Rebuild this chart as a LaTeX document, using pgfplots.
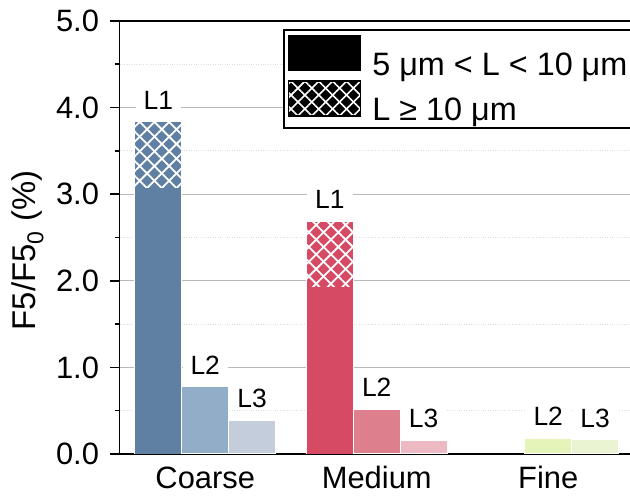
\documentclass[border=0pt]{standalone}
\usepackage{pgfplots}
\pgfplotsset{compat=1.18}
\usepackage{fontspec}
\setmainfont{Liberation Sans}
\usetikzlibrary{patterns.meta}

\definecolor{cA}{HTML}{6080A3}
\definecolor{cB}{HTML}{92ADC8}
\definecolor{cC}{HTML}{C4CDDC}
\definecolor{mA}{HTML}{D64A64}
\definecolor{mB}{HTML}{DE7F8E}
\definecolor{mC}{HTML}{EDB9C2}
\definecolor{fB}{HTML}{E5F5B9}
\definecolor{fC}{HTML}{EBF4D2}

\newcommand{\bigf}{\fontsize{31}{36}\selectfont}
\newcommand{\ylf}{\fontsize{33}{38}\selectfont}
\newcommand{\legf}{\fontsize{32.5}{36}\selectfont}
\newcommand{\lf}{\fontsize{26.5}{30}\selectfont}

\pgfplotsset{
  layers/mylayers/.define layer set={axis background,axis grid,pre main,main,axis ticks,axis lines,axis tick labels,axis descriptions,axis foreground}{},
  mybar/.style={ybar, bar width=0.2735, bar shift=0pt, draw=white, line width=1.2bp, forget plot},
  solidbar/.style={ybar, bar width=0.2665, bar shift=0pt, draw=none, forget plot},
  hatch/.style={postaction={pattern={Lines[angle=45,distance=10.4bp,line width=1.8bp]}, pattern color=white},
                postaction={pattern={Lines[angle=-45,distance=10.4bp,line width=1.8bp]}, pattern color=white}},
  lab/.style={nodes near coords={#1}, every node near coord/.append style={font=\lf, fill=white, inner xsep=8bp, inner ysep=1.5bp, anchor=south, yshift=10bp, text=black}},
}

\begin{document}
\begin{tikzpicture}
\begin{axis}[
  set layers=mylayers,
  scale only axis, width=514.5bp, height=433bp,
  at={(0,0)}, anchor=south west,
  xmin=-0.5, xmax=2.5, ymin=0, ymax=5,
  xtick={0,1,2}, xticklabels={Coarse,Medium,Fine},
  xtick style={draw=none},
  ytick={0,1,2,3,4,5},
  minor ytick={0.5,1.5,2.5,3.5,4.5},
  tick pos=left,
  tick align=outside,
  major tick length=9bp, minor tick length=4.5bp,
  ymajorgrids, yminorgrids,
  major grid style={draw=gray!55, line width=1bp},
  minor grid style={draw=gray!25, dotted, line width=0.8bp},
  axis line style={line width=1.6bp},
  every tick/.style={black, line width=1.6bp},
  tick label style={font=\bigf},
  yticklabel style={xshift=-8bp},
  yticklabel={\pgfmathprintnumber[fixed,fixed zerofill,precision=1,assume math mode=true]{\tick}},
  ylabel={F5/F5\textsubscript{0} (\%)},
  ylabel style={font=\ylf, at={(axis description cs:-0.178,0.47)}, anchor=center},
  legend style={at={(axis description cs:0.3178,0.981)}, anchor=north west, draw=black, line width=1.5bp, fill=white,
                inner xsep=4bp, inner ysep=5bp, row sep=2.5bp, font=\legf, nodes={inner ysep=1bp},
                /tikz/every odd column/.append style={column sep=9bp}},
  legend cell align=left,
]
% legend
\addlegendimage{legend image code/.code={\fill[black] (0bp,-6bp) rectangle (72bp,29bp);}}
\addlegendentry{5 μm < L < 10 μm\hspace{14bp}}
\addlegendimage{legend image code/.code={\fill[black] (0bp,-6bp) rectangle (72bp,29bp);
   \fill[pattern={Lines[angle=45,distance=9.8bp,line width=1.6bp]}, pattern color=white] (0bp,-6bp) rectangle (72bp,29bp);
   \fill[pattern={Lines[angle=-45,distance=9.8bp,line width=1.6bp]}, pattern color=white] (0bp,-6bp) rectangle (72bp,29bp);}}
\addlegendentry{L ≥ 10 μm}

% Coarse
\addplot[mybar, fill=cA, hatch, lab={L1}] coordinates {(-0.2735,3.84)};
\addplot[solidbar, fill=cA] coordinates {(-0.2735,3.07)};
\addplot[mybar, fill=cB, lab={L2}] coordinates {(0,0.78)};
\addplot[mybar, fill=cC, lab={L3}] coordinates {(0.2735,0.39)};
% Medium
\addplot[mybar, fill=mA, hatch, lab={L1}] coordinates {(0.7265,2.69)};
\addplot[solidbar, fill=mA] coordinates {(0.7265,1.93)};
\addplot[mybar, fill=mB, lab={L2}] coordinates {(1,0.52)};
\addplot[mybar, fill=mC, lab={L3}] coordinates {(1.2735,0.16)};
% Fine
\addplot[mybar, fill=fB, lab={L2}] coordinates {(2,0.185)};
\addplot[mybar, fill=fC, lab={L3}] coordinates {(2.2735,0.165)};
\end{axis}
\pgfresetboundingbox
\path[use as bounding box] (-119.5bp,-43bp) rectangle (510.5bp,454bp);
\end{tikzpicture}
\end{document}
